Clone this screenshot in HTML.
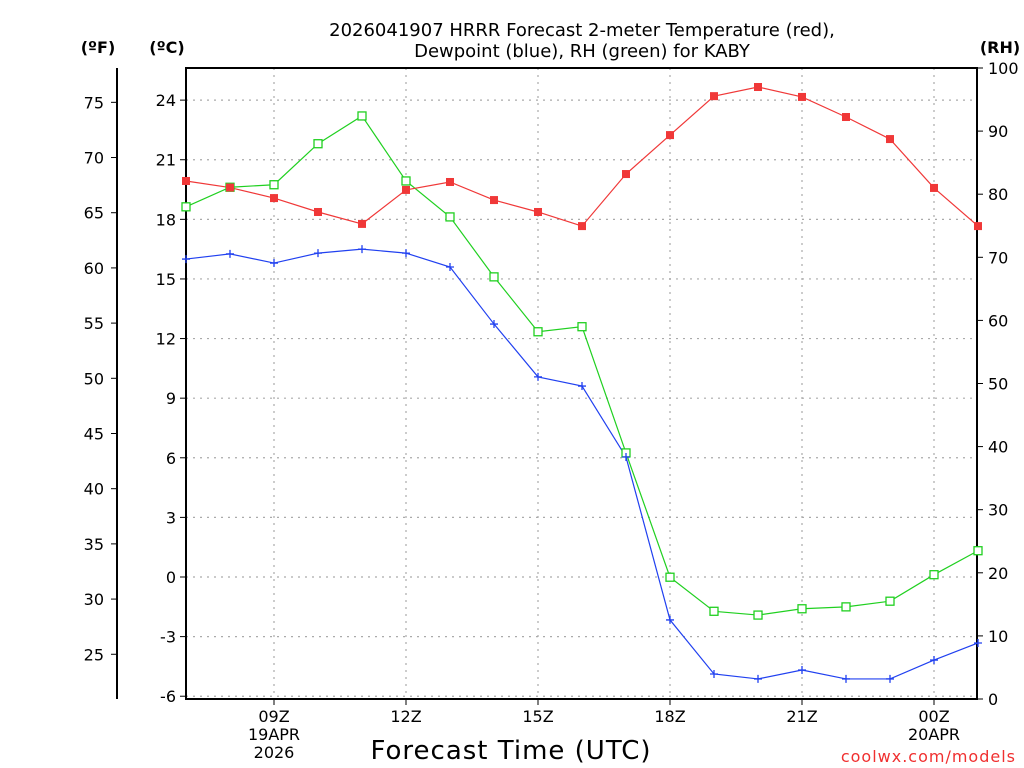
<!DOCTYPE html>
<html><head><meta charset="utf-8"><style>
html,body{margin:0;padding:0;background:#fff;width:1024px;height:768px;overflow:hidden}
svg{display:block;font-family:"DejaVu Sans","Liberation Sans",sans-serif}
</style></head><body>
<svg id="chart" width="1024" height="768" viewBox="0 0 1024 768" xmlns="http://www.w3.org/2000/svg">
<rect width="1024" height="768" fill="#fff"/>
<text x="582" y="36" font-size="18" text-anchor="middle" fill="#000">2026041907 HRRR Forecast 2-meter Temperature (red),</text>
<text x="582" y="57" font-size="18" text-anchor="middle" fill="#000">Dewpoint (blue), RH (green) for KABY</text>
<text x="98" y="53" font-size="16" font-weight="bold" text-anchor="middle">(ºF)</text>
<text x="167" y="53" font-size="16" font-weight="bold" text-anchor="middle">(ºC)</text>
<text x="1000" y="53" font-size="16" font-weight="bold" text-anchor="middle">(RH)</text>
<text x="511" y="759" font-size="26" text-anchor="middle" letter-spacing="1">Forecast Time (UTC)</text>
<text x="1016" y="762" font-size="16" text-anchor="end" fill="#f03030" letter-spacing="1">coolwx.com/models</text>
<g id="grid"></g><g id="axes"></g><g id="series"></g>
</svg>
<script>
const hours = [7,8,9,10,11,12,13,14,15,16,17,18,19,20,21,22,23,24,25];
const tempC = [19.93,19.6,19.07,18.37,17.77,19.48,19.88,18.97,18.37,17.66,20.28,22.24,24.2,24.66,24.16,23.15,22.04,19.58,17.66];
const dewC = [16.0,16.26,15.8,16.3,16.5,16.3,15.6,12.73,10.07,9.61,6.04,-2.16,-4.88,-5.13,-4.68,-5.13,-5.13,-4.18,-3.32];
const rh = [78,81.1,81.5,88,92.4,82.1,76.4,66.9,58.2,59,39,19.3,13.9,13.3,14.3,14.6,15.5,19.7,23.5];
const cTicks = [-6,-3,0,3,6,9,12,15,18,21,24];
const fTicks = [25,30,35,40,45,50,55,60,65,70,75];
const rhTicks = [0,10,20,30,40,50,60,70,80,90,100];
const xTickHours = [9,12,15,18,21,24];
const xTickLabels = [["09Z","19APR","2026"],["12Z"],["15Z"],["18Z"],["21Z"],["00Z","20APR"]];

const L=186,R=977,T=68,B=699;
const NS="http://www.w3.org/2000/svg";
const xS=h=>L+(h-7)*44;
const yC=c=>577-c*19.87;
const yF=f=>yC((f-32)*5/9);
const yRH=r=>B-r*(B-T)/100;
function mk(tag,attrs,parent,txt){const e=document.createElementNS(NS,tag);for(const k in attrs)e.setAttribute(k,attrs[k]);if(txt!==undefined)e.textContent=txt;parent.appendChild(e);return e;}
const grid=document.getElementById('grid'),axes=document.getElementById('axes'),ser=document.getElementById('series');

cTicks.forEach(c=>{const y=yC(c);
 const g=mk('line',{x1:L,x2:R,y1:y,y2:y,stroke:'#aaa','stroke-dasharray':'2,5','stroke-width':1.2},grid);
 
 
 mk('line',{x1:L-6,x2:L,y1:y,y2:y,stroke:'#000'},axes);
 const t=mk('text',{x:L-10,y:y+6,'font-size':16,'text-anchor':'end'},axes,String(c));
 
 
});
xTickHours.forEach((h,i)=>{const x=xS(h);
 const g=mk('line',{x1:x,x2:x,y1:T,y2:B,stroke:'#aaa','stroke-dasharray':'2,5','stroke-width':1.2},grid);
 
 
 mk('line',{x1:x,x2:x,y1:B,y2:B+6,stroke:'#000'},axes);
 xTickLabels[i].forEach((s,j)=>{const t=mk('text',{x:x,y:722+j*18,'font-size':16,'text-anchor':'middle'},axes,s);
  
  });
});
fTicks.forEach(f=>{const y=yF(f);
 mk('line',{x1:111,x2:117,y1:y,y2:y,stroke:'#000'},axes);
 const t=mk('text',{x:104,y:y+6,'font-size':16,'text-anchor':'end'},axes,String(f));
 
 
});
rhTicks.forEach(r=>{const y=yRH(r);
 mk('line',{x1:R,x2:R+6,y1:y,y2:y,stroke:'#000'},axes);
 const t=mk('text',{x:988,y:y+6,'font-size':16,'text-anchor':'start'},axes,String(r));
 
 
});
const fa=mk('line',{x1:117,x2:117,y1:T,y2:B,stroke:'#000','stroke-width':2},axes);


const fr=mk('rect',{x:L,y:T,width:R-L,height:B-T,fill:'none',stroke:'#000','stroke-width':2},axes);



function line(vals,yf,color,name){
 const pts=vals.map((v,i)=>xS(hours[i])+','+yf(v)).join(' ');
 const p=mk('polyline',{points:pts,fill:'none',stroke:color,'stroke-width':1.2},ser);
 
 
}
line(rh,yRH,'#20d020','rh');
line(tempC,yC,'#f03838','temperature');
line(dewC,yC,'#2040f0','dewpoint');
rh.forEach((v,i)=>{const m=mk('rect',{x:xS(hours[i])-4,y:yRH(v)-4,width:8,height:8,fill:'#fff',stroke:'#20d020','stroke-width':1.3},ser);
 
 });
tempC.forEach((v,i)=>{const m=mk('rect',{x:xS(hours[i])-4,y:yC(v)-4,width:8,height:8,fill:'#f03838'},ser);
 
 });
dewC.forEach((v,i)=>{const x=xS(hours[i]),y=yC(v);
 const m=mk('path',{d:`M${x-4} ${y}H${x+4}M${x} ${y-4}V${y+4}`,stroke:'#2040f0','stroke-width':1.3},ser);
 
 });
</script>
</body></html>
